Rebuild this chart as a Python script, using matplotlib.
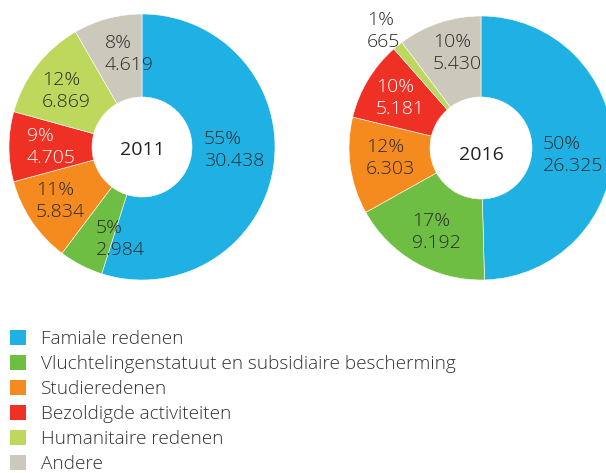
import matplotlib
matplotlib.use("Agg")
import matplotlib.pyplot as plt
from matplotlib.patches import Patch

plt.rcParams['font.family'] = ['Open Sans', 'DejaVu Sans']
plt.rcParams['font.weight'] = 300

categories = ['Famiale redenen',
              'Vluchtelingenstatuut en subsidiaire bescherming',
              'Studieredenen',
              'Bezoldigde activiteiten',
              'Humanitaire redenen',
              'Andere']
colors = ['#1fb0e4', '#6fbe44', '#f58a1f', '#ee3124', '#bed85e', '#ccc8bc']

years = ['2011', '2016']
values_2011 = [30438, 2984, 5834, 4705, 6869, 4619]
values_2016 = [26325, 9192, 6303, 5181, 665, 5430]
pct_2011 = ['55%', '5%', '11%', '9%', '12%', '8%']
pct_2016 = ['50%', '17%', '12%', '10%', '1%', '10%']

W, H = 606, 473
fig = plt.figure(figsize=(W / 100, H / 100), dpi=100)
ax = fig.add_axes([0, 0, 1, 1])

# layout in pixel units (y measured from top of image)
centers = [(142, 147), (481, 148)]
radii = [133, 132]
holes = [50, 51]
year_y = [150, 155]
# upper-left corner of each label block
label_pos = [
    [(204, 130), (96, 219), (36, 181), (27, 127), (42, 71), (105, 34)],
    [(543, 135), (412, 212), (366, 138), (376, 78), (367, 11), (433, 33)],
]
label_col = ['#2b2b2b', '#2b2b2b', '#2b2b2b', 'white', '#2b2b2b', '#2b2b2b']


def fmt(v):
    return f"{v:,}".replace(',', '.')


for i, (vals, pcts) in enumerate([(values_2011, pct_2011), (values_2016, pct_2016)]):
    cx, cy = centers[i]
    r = radii[i]
    ax.pie(vals, colors=colors, startangle=90, counterclock=False,
           center=(cx, H - cy), radius=r,
           wedgeprops=dict(width=r - holes[i], linewidth=0.4, edgecolor='white'))
    ax.text(cx, H - year_y[i], years[i], ha='center', va='center',
            fontsize=14, color='#222222', fontweight='normal')
    for j in range(len(vals)):
        lx, ly = label_pos[i][j]
        ax.text(lx, H - ly, pcts[j] + '\n' + fmt(vals[j]), ha='left', va='top',
                fontsize=14, color=label_col[j], linespacing=1.27)

ax.set_xlim(0, W)
ax.set_ylim(0, H)
ax.set_aspect('equal')
ax.axis('off')

handles = [Patch(facecolor=c, edgecolor='none') for c in colors]
fig.legend(handles, categories, loc='upper left',
           bbox_to_anchor=(10 / W, 1 - 330 / H), frameon=False,
           fontsize=13.7, handlelength=0.84, handleheight=0.84,
           handletextpad=0.79, labelspacing=0.36, borderpad=0,
           borderaxespad=0, labelcolor='#333333')

fig.savefig('out.png', dpi=100)
